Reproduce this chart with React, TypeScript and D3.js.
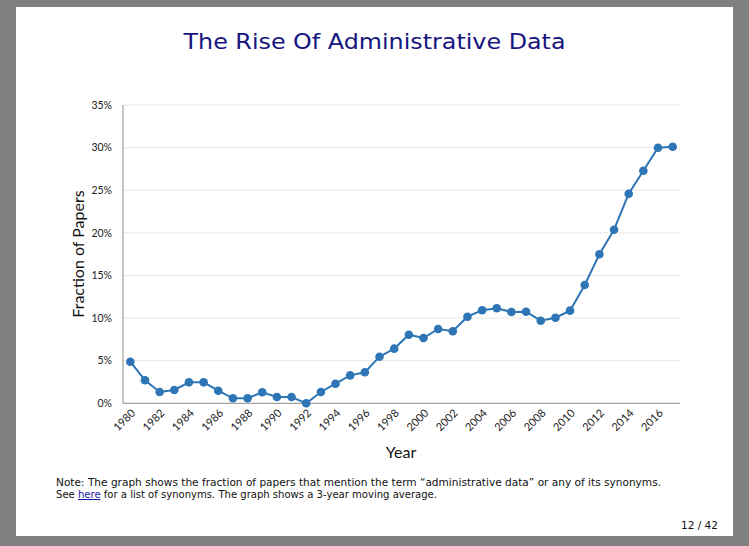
import React from "react";
import * as d3 from "d3";

const years: number[] = d3.range(1980, 2018);
const fractions: number[] = [
  4.88, 2.7, 1.33, 1.56, 2.46, 2.46, 1.48, 0.59, 0.59, 1.29, 0.74, 0.74, 0.0,
  1.33, 2.3, 3.28, 3.64, 5.47, 6.41, 8.05, 7.66, 8.72, 8.45, 10.16, 10.91,
  11.15, 10.71, 10.75, 9.69, 10.04, 10.87, 13.88, 17.48, 20.37, 24.59, 27.29,
  29.99, 30.11,
];
const yTicks: number[] = [0, 5, 10, 15, 20, 25, 30, 35];
const xTickYears: number[] = years.filter((y) => y % 2 === 0);

const title = "The Rise Of Administrative Data";
const noteLine1 =
  "Note: The graph shows the fraction of papers that mention the term \u201Cadministrative data\u201D or any of its synonyms.";
const pageLabel = "12 / 42";

export default function App() {
  const W = 749;
  const H = 546;
  const left = 123;
  const right = 680;
  const top = 105;
  const bottom = 403.3;

  const x = d3
    .scaleBand<number>()
    .domain(years)
    .range([left, right])
    .paddingInner(0)
    .paddingOuter(0);
  const cx = (yr: number) => (x(yr) as number) + x.bandwidth() / 2;
  const y = d3.scaleLinear().domain([0, 35]).range([bottom, top]);

  const line = d3
    .line<number>()
    .x((_, i) => cx(years[i]))
    .y((d) => y(d));

  const chartFont = "Lato, 'Open Sans', sans-serif";
  const texFont = "'DejaVu Sans', sans-serif";
  const blue = "#2e75b6";

  return (
    <svg
      width={W}
      height={H}
      style={{ position: "absolute", left: 0, top: 0, display: "block" }}
    >
      <rect x={0} y={0} width={W} height={H} fill="#808080" />
      <rect x={16} y={7} width={717} height={529} fill="#ffffff" />

      <text
        x={374.5}
        y={49}
        textAnchor="middle"
        fontFamily={texFont}
        fontSize={22}
        fill="#15157f"
        textLength={382}
        lengthAdjust="spacingAndGlyphs"
      >
        {title}
      </text>

      {yTicks.map((t) => (
        <g key={t}>
          {t > 0 && (
            <line
              x1={left}
              x2={right}
              y1={y(t)}
              y2={y(t)}
              stroke="#e8e8e8"
              strokeWidth={1}
            />
          )}
          <text
            x={112}
            y={y(t)}
            dy="0.35em"
            textAnchor="end"
            fontFamily={chartFont}
            fontSize={10.5}
            fill="#222"
          >
            {t}%
          </text>
        </g>
      ))}

      <line x1={left} x2={left} y1={top} y2={bottom} stroke="#8c8c8c" strokeWidth={1} />
      <line x1={left} x2={right} y1={bottom} y2={bottom} stroke="#8c8c8c" strokeWidth={1} />

      {xTickYears.map((yr) => {
        const px = cx(yr) + 3;
        const py = 411;
        return (
          <text
            key={yr}
            x={px}
            y={py}
            transform={`rotate(-45 ${px} ${py})`}
            textAnchor="end"
            dy="0.35em"
            fontFamily={chartFont}
            fontSize={11}
            fill="#222"
          >
            {yr}
          </text>
        );
      })}

      <path d={line(fractions) || ""} fill="none" stroke={blue} strokeWidth={2} />
      {fractions.map((v, i) => (
        <circle key={years[i]} cx={cx(years[i])} cy={y(v)} r={4.3} fill={blue} />
      ))}

      <text
        x={78}
        y={254}
        transform="rotate(-90 78 254)"
        textAnchor="middle"
        dy="0.35em"
        fontFamily={chartFont}
        fontSize={16}
        fill="#111"
      >
        Fraction of Papers
      </text>
      <text
        x={401}
        y={452}
        textAnchor="middle"
        dy="0.35em"
        fontFamily={chartFont}
        fontSize={16}
        fill="#111"
      >
        Year
      </text>

      <text
        x={56}
        y={486}
        fontFamily={texFont}
        fontSize={10.5}
        fill="#111"
        textLength={605}
        lengthAdjust="spacingAndGlyphs"
      >
        {noteLine1}
      </text>
      <text
        x={56}
        y={498}
        fontFamily={texFont}
        fontSize={10.5}
        fill="#111"
        textLength={381}
        lengthAdjust="spacingAndGlyphs"
      >
        <tspan>See </tspan>
        <tspan fill="#1a1aa6" textDecoration="underline">here</tspan>
        <tspan> for a list of synonyms.  The graph shows a 3-year moving average.</tspan>
      </text>

      <text
        x={718}
        y={529}
        textAnchor="end"
        fontFamily={texFont}
        fontSize={10.5}
        fill="#111"
        textLength={37}
        lengthAdjust="spacingAndGlyphs"
      >
        {pageLabel}
      </text>
    </svg>
  );
}
